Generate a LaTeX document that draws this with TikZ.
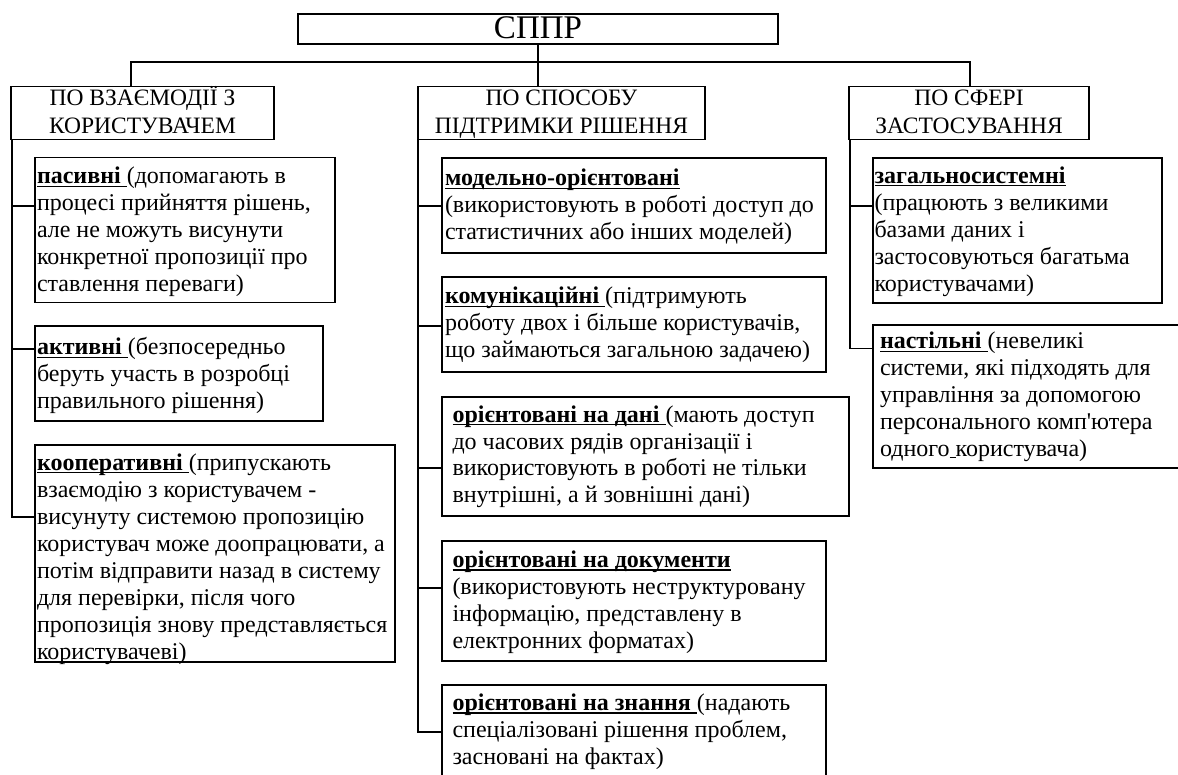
\documentclass[tikz,border=0pt]{standalone}
\usepackage{fontspec}
\setmainfont{Liberation Serif}
\newfontfamily\rawfont{Liberation Serif}[Ligatures=TeXOff]
\newcommand\keyw[1]{\leavevmode\setbox0\hbox{\bfseries #1}\rlap{\rule[-3pt]{\wd0}{1.4pt}}\box0}
\newcommand\uspc{\leavevmode\setbox0\hbox{\ }\rlap{\rule[-1pt]{\wd0}{1.2pt}}\box0}
\newcommand\apos{{\rawfont '}}
\begin{document}
\begin{tikzpicture}[x=1pt,y=-1pt,
  box/.style={draw,line width=1.9pt,inner sep=0pt,outer sep=0pt,anchor=north west},
  txt/.style={inner sep=0pt,outer sep=0pt,anchor=base west,font=\fontsize{24}{27}\selectfont},
  hdrtxt/.style={inner sep=0pt,outer sep=0pt,anchor=base,font=\fontsize{23.5}{27.7}\selectfont},
  toptxt/.style={inner sep=0pt,outer sep=0pt,anchor=base,font=\fontsize{33}{36}\selectfont},
  link/.style={line width=1.9pt}]
\useasboundingbox (0,0) rectangle (1178,775);

% top
\node[box,minimum width=480pt,minimum height=30pt] (top) at (298,14) {};
\node[toptxt] (topT) at (538,39) {СППР};

% headers
\node[box,minimum width=263.7pt,minimum height=53pt] (left) at (10.7,86.5) {};
\node[box,minimum width=287pt,minimum height=53pt] (mid) at (418,86.5) {};
\node[box,minimum width=240pt,minimum height=53pt] (right) at (849,86.5) {};
\node[hdrtxt] (leftT) at (142.5,106) {\parbox[t]{280pt}{\centering ПО ВЗАЄМОДІЇ З\\КОРИСТУВАЧЕМ}};
\node[hdrtxt] (midT) at (561.5,106) {\parbox[t]{300pt}{\centering ПО СПОСОБУ\\ПІДТРИМКИ РІШЕННЯ}};
\node[hdrtxt] (rightT) at (969,106) {\parbox[t]{260pt}{\centering ПО СФЕРІ\\ЗАСТОСУВАННЯ}};

% left column
\node[box,minimum width=300pt,minimum height=145pt] (pas) at (35,157.5) {};
\node[box,minimum width=288pt,minimum height=95pt] (akt) at (35,326) {};
\node[box,minimum width=360pt,minimum height=217pt] (coop) at (35,445) {};
\node[txt] (pasT) at (37,184) {\parbox[t]{400pt}{\raggedright\keyw{пасивні }(допомагають в\\процесі прийняття рішень,\\але не можуть висунути\\конкретної пропозиції про\\ставлення переваги)}};
\node[txt] (aktT) at (37,355) {\parbox[t]{400pt}{\raggedright\keyw{активні }(безпосередньо\\беруть участь в розробці\\правильного рішення)}};
\node[txt] (coopT) at (37,470.5) {\parbox[t]{400pt}{\raggedright\keyw{кооперативні }(припускають\\взаємодію з користувачем -\\висунуту системою пропозицію\\користувач може доопрацювати, а\\потім відправити назад в систему\\для перевірки, після чого\\пропозиція знову представляється\\користувачеві)}};

% middle column
\node[box,minimum width=384pt,minimum height=95pt] (mod) at (442,158) {};
\node[box,minimum width=384pt,minimum height=95pt] (kom) at (442,277) {};
\node[box,minimum width=407pt,minimum height=119pt] (dani) at (442,397) {};
\node[box,minimum width=384pt,minimum height=120pt] (doc) at (442,541) {};
\node[box,minimum width=384pt,minimum height=100pt] (zn) at (442,685) {};
\node[txt] (modT) at (445,186) {\parbox[t]{420pt}{\raggedright\keyw{модельно-орієнтовані}\\(використовують в роботі доступ до\\статистичних або інших моделей)}};
\node[txt] (komT) at (445,304) {\parbox[t]{420pt}{\raggedright\keyw{комунікаційні }(підтримують\\роботу двох і більше користувачів,\\що займаються загальною задачею)}};
\node[txt] (daniT) at (452.5,422) {\parbox[t]{420pt}{\raggedright\keyw{орієнтовані на дані }(мають доступ\\до часових рядів організації і\\використовують в роботі не тільки\\внутрішні, а й зовнішні дані)}};
\node[txt] (docT) at (452.5,567.5) {\parbox[t]{420pt}{\raggedright\keyw{орієнтовані на документи}\\(використовують неструктуровану\\інформацію, представлену в\\електронних форматах)}};
\node[txt] (znT) at (452.5,710.5) {\parbox[t]{420pt}{\raggedright\keyw{орієнтовані на знання }(надають\\спеціалізовані рішення проблем,\\засновані на фактах)}};

% right column
\node[box,minimum width=289pt,minimum height=145pt] (zag) at (873,158) {};
\node[box,minimum width=330pt,minimum height=143pt] (nast) at (873,325) {};
\node[txt] (zagT) at (874.5,183.5) {\parbox[t]{300pt}{\raggedright\keyw{загальносистемні}\\(працюють з великими\\базами даних і\\застосовуються багатьма\\користувачами)}};
\node[txt] (nastT) at (880,349) {\parbox[t]{300pt}{\raggedright\keyw{настільні }(невеликі\\системи, які підходять для\\управління за допомогою\\персонального комп\apos ютера\\одного\uspc користувача)}};

% junctions
\coordinate (jl) at (131,62);
\coordinate (jr) at (970,62);
\coordinate (lb) at (11.7,0);
\coordinate (mb) at (418,0);
\coordinate (rb) at (850,0);
\path (pas.north west) ++(0,48.5) coordinate (pasC);
\path (akt.north west) ++(0,23) coordinate (aktC);
\path (coop.north west) ++(0,72) coordinate (coopC);
\path (mod.north west) ++(0,48) coordinate (modC);
\path (kom.north west) ++(0,48.7) coordinate (komC);
\path (dani.north west) ++(0,71.3) coordinate (daniC);
\path (doc.north west) ++(0,47.3) coordinate (docC);
\path (zn.north west) ++(0,46.7) coordinate (znC);
\path (zag.north west) ++(0,47.7) coordinate (zagC);
\path (nast.north west) ++(0,23.5) coordinate (nastC);

% top connectors
\draw[link] (top.south) -- (top.south |- mid.north);
\draw[link] (left.north -| jl) -- (jl) -- (jr) -- (right.north -| jr);

% left bus
\draw[link] (left.south -| lb) -- (coopC -| lb) -- (coopC);
\draw[link] (pasC -| lb) -- (pasC);
\draw[link] (aktC -| lb) -- (aktC);

% middle bus
\draw[link] (mid.south -| mb) -- (znC -| mb) -- (znC);
\draw[link] (modC -| mb) -- (modC);
\draw[link] (komC -| mb) -- (komC);
\draw[link] (daniC -| mb) -- (daniC);
\draw[link] (docC -| mb) -- (docC);

% right bus
\draw[link] (right.south -| rb) -- (nastC -| rb) -- (nastC);
\draw[link] (zagC -| rb) -- (zagC);
\end{tikzpicture}
\end{document}
